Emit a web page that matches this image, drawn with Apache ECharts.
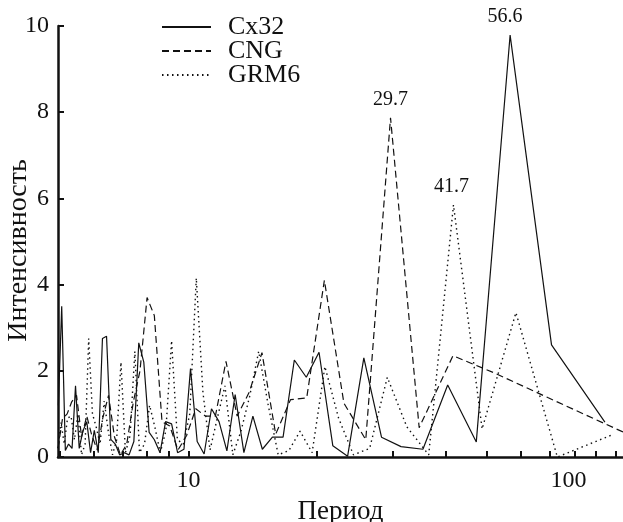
<!DOCTYPE html>
<html>
<head>
<meta charset="utf-8">
<script src="https://cdn.jsdelivr.net/npm/echarts@6/dist/echarts.min.js"></script>
<style>
  html, body { margin: 0; padding: 0; background: #fff; }
  #chart { width: 623px; height: 522px; }
</style>
</head>
<body>
<div id="chart"></div>
<script>
// periods (x) and intensities (y)
const cx32Period = [94.33, 70.75, 56.6, 47.17, 40.43, 35.38, 31.44, 28.3, 25.73, 23.58,
  21.77, 20.21, 18.87, 17.69, 16.65, 15.72, 14.89, 14.15, 13.48, 12.86,
  12.3, 11.79, 11.32, 10.88, 10.48, 10.11, 9.76, 9.43, 9.13, 8.84,
  8.58, 8.32, 8.09, 7.86, 7.65, 7.45, 7.26, 7.08, 6.9, 6.74,
  6.58, 6.43, 6.29, 6.15, 6.02, 5.9, 5.78, 5.66, 5.55, 5.44,
  5.34, 5.24, 5.15, 5.05, 4.96]
const cx32Value = [0.81, 2.6, 9.79, 0.35, 1.67, 0.18, 0.24, 0.46, 2.3, 0.02,
  0.26, 2.43, 1.85, 2.25, 0.46, 0.46, 0.18, 0.95, 0.1, 1.45,
  0.14, 0.82, 1.12, 0.07, 0.36, 2.05, 0.18, 0.1, 0.77, 0.82,
  0.1, 0.4, 0.57, 2.2, 2.65, 0.36, 0.05, 0.1, 0.05, 0.3,
  0.41, 2.8, 2.75, 0.1, 0.62, 0.1, 0.82, 0.6, 0.2, 1.65,
  0.2, 0.3, 0.15, 3.5, 1.2]

const cngPeriod = [104, 69.33, 52, 41.6, 34.67, 29.71, 26, 23.11, 20.8, 18.91,
  17.33, 16, 14.86, 13.87, 13, 12.24, 11.56, 10.95, 10.4, 9.9,
  9.45, 9.04, 8.67, 8.32, 8, 7.7, 7.43, 7.17, 6.93, 6.71,
  6.5, 6.3, 6.12, 5.94, 5.78, 5.62, 5.47, 5.33, 5.2, 5.07, 4.95]
const cngValue = [0.58, 1.38, 1.95, 2.35, 0.68, 7.87, 0.4, 1.25, 4.1, 1.37,
  1.33, 0.53, 2.42, 1.5, 0.95, 2.22, 0.95, 0.95, 1.12, 0.5,
  0.16, 0.72, 0.82, 3.28, 3.7, 2.0, 1.28, 0.3, 0.05, 0.47,
  1.43, 0.9, 0.16, 0.5, 0.95, 0.47, 1.43, 1.28, 1.0, 0.88, 0.2]

const grm6Period = [97.33, 73, 58.4, 48.67, 41.71, 36.5, 32.44, 29.2, 26.55, 24.33,
  22.46, 20.86, 19.47, 18.25, 17.18, 16.22, 15.37, 14.6, 13.9, 13.27,
  12.7, 12.17, 11.68, 11.23, 10.81, 10.43, 10.07, 9.73, 9.42, 9.13,
  8.85, 8.59, 8.34, 8.11, 7.89, 7.68, 7.49, 7.3, 7.12, 6.95,
  6.79, 6.64, 6.49, 6.35, 6.21, 6.08, 5.96, 5.84, 5.73, 5.62,
  5.51, 5.41, 5.31, 5.21, 5.12, 5.03, 4.95]
const grm6Value = [0.5, 0.0, 3.35, 0.65, 5.85, 0.05, 0.7, 1.85, 0.2, 0.05,
  0.9, 2.1, 0.1, 0.6, 0.15, 0.05, 1.2, 2.45, 1.4, 0.6,
  0.05, 1.65, 0.9, 0.16, 1.5, 4.15, 1.0, 0.3, 0.4, 2.7,
  0.6, 0.1, 0.7, 1.2, 0.3, 0.1, 2.45, 0.5, 0.1, 2.2,
  0.4, 0.05, 0.6, 1.3, 0.3, 0.7, 1.0, 2.75, 0.3, 0.05,
  1.0, 0.4, 0.95, 0.9, 0.3, 0.8, 0.2]

const seriesNames = ['Cx32', 'CNG', 'GRM6']
const xTickValues = [5, 6, 7, 8, 9, 10, 20, 30, 40, 50, 60, 70, 80, 90, 100]
// label positions as printed in the figure (the "100" sits left of its tick)
const xLabelValues = [10, 77.5]
const xLabelTexts = ['10', '100']

const font = 'Liberation Serif'
const ink = '#111'

// period label over the highest point of a series
function peakMark(periods, values, offset) {
  let peak = 0
  values.forEach((v, i) => { if (v > values[peak]) peak = i })
  return {
    silent: true,
    symbol: 'circle', symbolSize: 2,
    itemStyle: { color: 'rgba(0,0,0,0)' },
    label: {
      show: true, position: 'top', distance: 7, offset,
      formatter: periods[peak].toFixed(1),
      fontFamily: font, fontSize: 20, color: ink
    },
    data: [{ coord: [periods[peak], values[peak]] }]
  }
}

function pairs(periods, values) {
  return periods.map((p, i) => [p, values[i]])
}

const chart = echarts.init(document.getElementById('chart'))
chart.setOption({
  animation: false,
  backgroundColor: '#fff',
  textStyle: { fontFamily: font, color: ink },
  grid: { left: 58, right: 0, top: 26, bottom: 65, outerBoundsMode: 'none', containLabel: false },
  legend: {
    orient: 'vertical', left: 156, top: 9,
    itemWidth: 49, itemHeight: 12, itemGap: -2,
    selectedMode: false,
    itemStyle: { color: 'rgba(0,0,0,0)', opacity: 0, borderWidth: 0 },
    textStyle: { fontFamily: font, fontSize: 26, color: ink, padding: [0, 0, 0, 12] },
    data: seriesNames
  },
  xAxis: {
    type: 'log', logBase: 10, min: 4.95, max: 104,
    name: 'Период', nameLocation: 'middle', nameGap: 41, nameMoveOverlap: false,
    nameTextStyle: { fontFamily: font, fontSize: 27, color: ink },
    axisLine: { lineStyle: { color: ink, width: 2.5 } },
    axisTick: { inside: true, length: 6, lineStyle: { color: ink, width: 2 }, customValues: xTickValues },
    axisLabel: {
      customValues: xLabelValues, margin: 12,
      fontFamily: font, fontSize: 24, color: ink,
      formatter: v => xLabelTexts[xLabelValues.indexOf(v)] ?? ''
    },
    splitLine: { show: false },
    minorTick: { show: false }
  },
  yAxis: {
    type: 'value', min: 0, max: 10, interval: 2,
    name: 'Интенсивность', nameLocation: 'middle', nameGap: 25, nameRotate: 90,
    nameMoveOverlap: false,
    nameTextStyle: { fontFamily: font, fontSize: 28, color: ink, padding: [0, 18, 0, 0] },
    axisLine: { show: true, lineStyle: { color: ink, width: 2.5 } },
    axisTick: { show: true, inside: true, length: 6, lineStyle: { color: ink, width: 2 } },
    axisLabel: { margin: 9, fontFamily: font, fontSize: 24, color: ink },
    splitLine: { show: false }
  },
  series: [
    {
      name: 'Cx32', type: 'line', symbol: 'none',
      lineStyle: { color: ink, width: 1.2, type: 'solid' },
      data: pairs(cx32Period, cx32Value),
      markPoint: peakMark(cx32Period, cx32Value, [-5, 0])
    },
    {
      name: 'CNG', type: 'line', symbol: 'none',
      lineStyle: { color: ink, width: 1.2, type: [7, 4] },
      data: pairs(cngPeriod, cngValue),
      markPoint: peakMark(cngPeriod, cngValue, [0, 0])
    },
    {
      name: 'GRM6', type: 'line', symbol: 'none',
      lineStyle: { color: ink, width: 1.4, type: [1.5, 3.5] },
      data: pairs(grm6Period, grm6Value),
      markPoint: peakMark(grm6Period, grm6Value, [-2, 0])
    }
  ]
})
</script>
</body>
</html>
